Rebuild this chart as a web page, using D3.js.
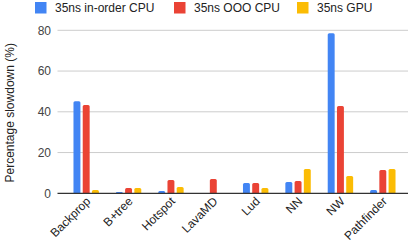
<!DOCTYPE html>
<html>
<head>
<meta charset="utf-8">
<script src="https://cdn.jsdelivr.net/npm/d3@7"></script>
<style>
  body { margin: 0; background: #fff; }
  text { font-family: Arial, "Liberation Sans", sans-serif; }
</style>
</head>
<body>
<div id="chart"></div>
<script>
var categories = ["Backprop", "B+tree", "Hotspot", "LavaMD", "Lud", "NN", "NW", "Pathfinder"];
var seriesNames = ["35ns in-order CPU", "35ns OOO CPU", "35ns GPU"];
var inorderCpu = [45.2, 0.6, 1.1, 0, 5.0, 5.5, 78.6, 1.6];
var oooCpu = [43.3, 2.6, 6.5, 7.0, 5.0, 6.0, 42.8, 11.4];
var gpu = [1.6, 2.6, 3.1, 0, 2.6, 11.9, 8.5, 11.9];
var yTicks = [0, 20, 40, 60, 80];
var colors = ["#4285F4", "#EA4335", "#FBBC04"];

var width = 411, height = 248;
var series = [inorderCpu, oooCpu, gpu];

var svg = d3.select("#chart").append("svg")
  .attr("width", width)
  .attr("height", height);

var x = d3.scaleBand()
  .domain(categories)
  .range([65, 404])
  .paddingInner(0.4)
  .paddingOuter(0.2);

var x1 = d3.scaleBand()
  .domain(d3.range(series.length))
  .range([0, x.bandwidth()])
  .paddingInner(0.25);

var y = d3.scaleLinear()
  .domain([0, 80])
  .range([193.3, 30.3]);

// gridlines
svg.append("g").selectAll("line")
  .data(yTicks.filter(function(d) { return d > 0; }))
  .enter().append("line")
  .attr("x1", 57.5).attr("x2", 408)
  .attr("y1", function(d) { return y(d); })
  .attr("y2", function(d) { return y(d); })
  .attr("stroke", "#cccccc")
  .attr("stroke-width", 1);

// y tick labels
svg.append("g").selectAll("text")
  .data(yTicks)
  .enter().append("text")
  .attr("x", 51)
  .attr("y", function(d) { return y(d); })
  .attr("dy", "0.35em")
  .attr("text-anchor", "end")
  .attr("font-size", 12)
  .attr("fill", "#444")
  .text(function(d) { return d; });

// y title
svg.append("text")
  .attr("transform", "translate(10," + ((y(0) + y(80)) / 2 + 1) + ") rotate(-90)")
  .attr("dy", "0.35em")
  .attr("text-anchor", "middle")
  .attr("font-size", 12)
  .attr("fill", "#222")
  .text("Percentage slowdown (%)");

function barPath(x0, w, top, bottom) {
  var r = Math.min(1.5, (bottom - top));
  if (bottom - top <= 0) return "";
  return "M" + x0 + "," + bottom +
    "V" + (top + r) +
    "Q" + x0 + "," + top + " " + (x0 + r) + "," + top +
    "H" + (x0 + w - r) +
    "Q" + (x0 + w) + "," + top + " " + (x0 + w) + "," + (top + r) +
    "V" + bottom + "Z";
}

// bars
var groups = svg.append("g").selectAll("g")
  .data(categories)
  .enter().append("g")
  .attr("transform", function(d) { return "translate(" + x(d) + ",0)"; });

groups.selectAll("path")
  .data(function(d, i) { return series.map(function(s, j) { return { k: j, v: s[i] }; }); })
  .enter().append("path")
  .attr("d", function(d) { return barPath(x1(d.k), x1.bandwidth(), y(d.v), y(0)); })
  .attr("fill", function(d) { return colors[d.k]; });

// baseline
svg.append("line")
  .attr("x1", 57.5).attr("x2", 408)
  .attr("y1", y(0)).attr("y2", y(0))
  .attr("stroke", "#333")
  .attr("stroke-width", 1.3);

// x labels
svg.append("g").selectAll("text")
  .data(categories)
  .enter().append("text")
  .attr("transform", function(d) {
    return "translate(" + (x(d) + x.bandwidth() / 2 + 5) + ",202) rotate(-45)";
  })
  .attr("text-anchor", "end")
  .attr("font-size", 12)
  .attr("fill", "#222")
  .text(function(d) { return d; });

// legend
var legendX = [35, 174, 297];
var legend = svg.append("g").selectAll("g")
  .data(seriesNames)
  .enter().append("g")
  .attr("transform", function(d, i) { return "translate(" + legendX[i] + ",2)"; });

legend.append("rect")
  .attr("width", 11.5).attr("height", 11.5)
  .attr("fill", function(d, i) { return colors[i]; });

legend.append("text")
  .attr("x", 20).attr("y", 6)
  .attr("dy", "0.35em")
  .attr("font-size", 12)
  .attr("fill", "#222")
  .text(function(d) { return d; });
</script>
</body>
</html>
